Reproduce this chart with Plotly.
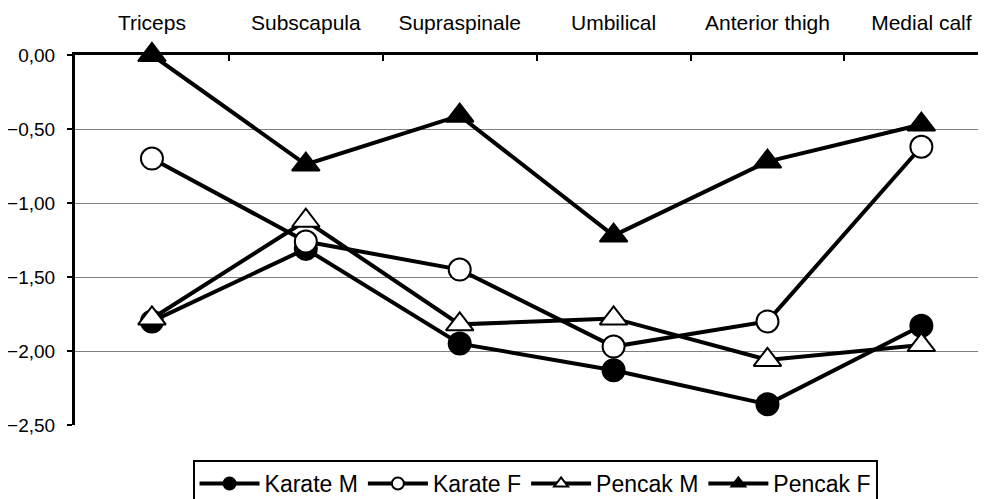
import plotly.graph_objects as go

categories = ["Triceps", "Subscapula", "Supraspinale", "Umbilical", "Anterior thigh", "Medial calf"]
karate_m = [-1.80, -1.31, -1.95, -2.13, -2.36, -1.83]
karate_f = [-0.70, -1.26, -1.45, -1.97, -1.80, -0.62]
pencak_m = [-1.78, -1.12, -1.82, -1.78, -2.06, -1.96]
pencak_f = [0.00, -0.74, -0.41, -1.22, -0.72, -0.47]
y_ticks = [0.0, -0.5, -1.0, -1.5, -2.0, -2.5]

series = [
    ("Karate M", karate_m, "circle", "black", 22),
    ("Karate F", karate_f, "circle", "white", 22),
    ("Pencak M", pencak_m, "triangle-up", "white", 24),
    ("Pencak F", pencak_f, "triangle-up", "black", 24),
]

fig = go.Figure()
for name, vals, sym, fill, size in series:
    fig.add_trace(go.Scatter(
        x=categories, y=vals, name=name, mode="lines+markers",
        line=dict(color="black", width=4),
        marker=dict(symbol=sym, color=fill, size=size, line=dict(color="black", width=2)),
        cliponaxis=False, showlegend=False,
    ))
# legend entries with smaller symbols
for name, vals, sym, fill, size in series:
    fig.add_trace(go.Scatter(
        x=[None], y=[None], name=name, mode="lines+markers",
        line=dict(color="black", width=4),
        marker=dict(symbol=sym, color=fill, size=12, line=dict(color="black", width=2)),
        showlegend=True,
    ))

# the page body has an 8px margin, so positions are offset by 8px
fig.update_layout(
    width=986, height=499,
    margin=dict(l=67, r=8, t=47, b=82),
    paper_bgcolor="white", plot_bgcolor="white",
    font=dict(family="Liberation Sans, Arial, sans-serif", size=20, color="black"),
    separators=",.",
    showlegend=True,
    legend=dict(
        orientation="h", x=0.505, xanchor="center",
        yref="container", y=1 - 452 / 499, yanchor="top",
        bordercolor="black", borderwidth=2, bgcolor="white",
        font=dict(size=23), tracegroupgap=0, itemwidth=60,
    ),
    xaxis=dict(
        side="top", type="category", range=[-0.5, 5.42], automargin=False,
        showline=True, linecolor="black", linewidth=3,
        ticks="inside", tickson="boundaries", ticklen=6, tickwidth=2, tickcolor="black",
        showgrid=False, ticklabelstandoff=14, tickfont=dict(size=21),
    ),
    yaxis=dict(
        range=[-2.5, 0], tickvals=y_ticks, tickformat=".2f", automargin=False,
        showline=True, linecolor="black", linewidth=3,
        ticks="outside", ticklen=5, tickwidth=2, tickcolor="black",
        showgrid=True, gridcolor="#808080", gridwidth=1, zeroline=False,
        tickfont=dict(size=19), ticklabelstandoff=8,
    ),
)

fig.write_html("out.html")
